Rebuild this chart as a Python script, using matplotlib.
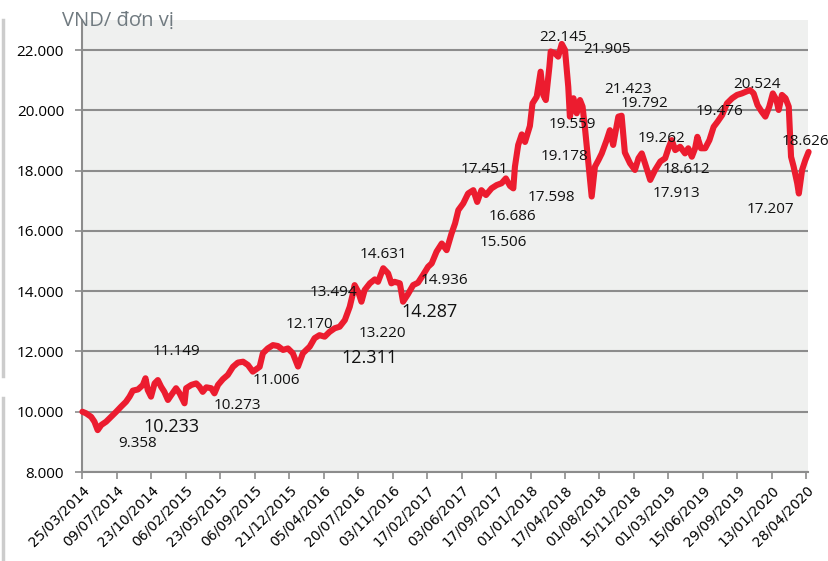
import matplotlib
matplotlib.use("Agg")
import matplotlib.pyplot as plt
import matplotlib.dates as mdates
from matplotlib.ticker import FuncFormatter
from matplotlib.lines import Line2D
import pandas as pd

# du lieu doc tu hinh (VND/don vi)
ngay = [
    "2014-03-25", "2014-04-05", "2014-04-21", "2014-05-01", "2014-05-11", "2014-05-22", "2014-06-06",
    "2014-06-21", "2014-07-07", "2014-07-22", "2014-08-06", "2014-08-17", "2014-08-27", "2014-09-12",
    "2014-09-27", "2014-10-05", "2014-10-12", "2014-10-22", "2014-11-02", "2014-11-12", "2014-11-22",
    "2014-12-02", "2014-12-13", "2014-12-23", "2015-01-07", "2015-01-18", "2015-02-02", "2015-02-07",
    "2015-02-23", "2015-03-10", "2015-03-20", "2015-03-30", "2015-04-10", "2015-04-25", "2015-05-05",
    "2015-05-16", "2015-05-31", "2015-06-15", "2015-07-01", "2015-07-16", "2015-08-01", "2015-08-16",
    "2015-08-31", "2015-09-21", "2015-10-01", "2015-10-16", "2015-11-01", "2015-11-16", "2015-12-02",
    "2015-12-17", "2016-01-01", "2016-01-17", "2016-02-01", "2016-02-22", "2016-03-08", "2016-03-23",
    "2016-04-08", "2016-04-23", "2016-05-09", "2016-05-24", "2016-06-09", "2016-06-24", "2016-07-04",
    "2016-07-09", "2016-07-20", "2016-07-30", "2016-08-09", "2016-08-25", "2016-09-09", "2016-09-19",
    "2016-10-05", "2016-10-20", "2016-10-30", "2016-11-09", "2016-11-25", "2016-12-05", "2016-12-20",
    "2017-01-05", "2017-01-20", "2017-02-04", "2017-02-20", "2017-03-03", "2017-03-18", "2017-04-03",
    "2017-04-18", "2017-05-03", "2017-05-14", "2017-05-24", "2017-06-08", "2017-06-23", "2017-07-09",
    "2017-07-21", "2017-08-03", "2017-08-17", "2017-09-03", "2017-09-19", "2017-10-04", "2017-10-17",
    "2017-10-30", "2017-11-09", "2017-11-14", "2017-11-24", "2017-12-05", "2017-12-15", "2017-12-30",
    "2018-01-07", "2018-01-20", "2018-02-01", "2018-02-09", "2018-02-17", "2018-02-28", "2018-03-04",
    "2018-03-17", "2018-03-27", "2018-04-07", "2018-04-17", "2018-04-27", "2018-05-02", "2018-05-13",
    "2018-05-23", "2018-06-02", "2018-06-10", "2018-06-18", "2018-06-28", "2018-07-08", "2018-07-18",
    "2018-07-29", "2018-08-08", "2018-08-23", "2018-09-02", "2018-09-12", "2018-09-28", "2018-10-08",
    "2018-10-18", "2018-11-03", "2018-11-18", "2018-11-29", "2018-12-09", "2018-12-19", "2019-01-04",
    "2019-01-19", "2019-02-04", "2019-02-19", "2019-03-01", "2019-03-11", "2019-03-22", "2019-04-06",
    "2019-04-21", "2019-05-01", "2019-05-12", "2019-05-22", "2019-05-29", "2019-06-09", "2019-06-22",
    "2019-07-05", "2019-07-18", "2019-07-30", "2019-08-13", "2019-08-28", "2019-09-13", "2019-09-28",
    "2019-10-13", "2019-10-26", "2019-11-07", "2019-11-18", "2019-11-30", "2019-12-13", "2019-12-24",
    "2020-01-05", "2020-01-16", "2020-01-27", "2020-02-03", "2020-02-13", "2020-02-24", "2020-03-05",
    "2020-03-12", "2020-03-20", "2020-03-31", "2020-04-05", "2020-04-15", "2020-04-25", "2020-05-05",
]
gia = [
    10000, 9950, 9830, 9670, 9390, 9560, 9670,
    9830, 10000, 10170, 10330, 10500, 10700, 10740,
    10890, 11110, 10720, 10500, 10940, 11050, 10830,
    10660, 10390, 10550, 10780, 10610, 10280, 10780,
    10890, 10940, 10830, 10660, 10810, 10780, 10610,
    10890, 11080, 11220, 11490, 11630, 11660, 11550,
    11330, 11490, 11940, 12100, 12210, 12180, 12050,
    12100, 11940, 11500, 11940, 12160, 12440, 12540,
    12490, 12650, 12770, 12820, 13040, 13480, 13930,
    14200, 13980, 13650, 14040, 14260, 14390, 14310,
    14760, 14590, 14260, 14310, 14260, 13650, 13900,
    14200, 14280, 14530, 14810, 14920, 15310, 15580,
    15360, 15910, 16250, 16690, 16910, 17240, 17350,
    16960, 17350, 17190, 17410, 17520, 17580, 17740,
    17490, 17410, 18130, 18850, 19200, 18950, 19480,
    20230, 20450, 21280, 20510, 20340, 21450, 21950,
    21890, 21780, 22200, 22000, 20780, 19790, 20400,
    19900, 20340, 20120, 19340, 18240, 17140, 18130,
    18350, 18570, 19010, 19340, 18850, 19790, 19820,
    18600, 18240, 18020, 18410, 18570, 18240, 17690,
    18020, 18300, 18410, 18740, 19010, 18680, 18790,
    18570, 18740, 18460, 18740, 19120, 18740, 18740,
    19010, 19450, 19620, 19840, 20230, 20400, 20510,
    20560, 20620, 20670, 20560, 20170, 19950, 19790,
    20120, 20560, 20340, 20010, 20510, 20400, 20120,
    18460, 18130, 17580, 17240, 18020, 18350, 18620,
]

# nhan so lieu tren bieu do
nhan_chu = ["9.358", "10.233", "11.149", "10.273", "11.006", "12.170", "13.494", "13.220",
            "12.311", "14.631", "14.287", "14.936", "15.506", "16.686", "17.451", "17.598",
            "19.178", "19.559", "22.145", "21.905", "21.423", "19.792", "19.262", "17.913",
            "18.612", "19.476", "20.524", "18.626", "17.207"]
nhan_ngay = ["2014-09-10", "2014-12-23", "2015-01-09", "2015-07-15", "2015-11-12", "2016-02-22",
             "2016-05-06", "2016-10-04", "2016-08-25", "2016-10-07", "2017-02-25", "2017-04-10",
             "2017-10-08", "2017-11-05", "2017-08-11", "2018-03-07", "2018-04-14", "2018-05-09",
             "2018-04-11", "2018-08-24", "2018-10-28", "2018-12-19", "2019-02-07", "2019-03-25",
             "2019-04-25", "2019-08-04", "2019-11-28", "2020-04-25", "2020-01-08"]
nhan_y = [8930, 9490, 12010, 10220, 11020, 12880, 13940, 12580, 11780, 15200, 13310, 14340,
          15630, 16490, 18020, 17120, 18480, 19540, 22430, 22030, 20700, 20240, 19050, 17250,
          18020, 19970, 20840, 18950, 16720]
nhan_lon = ["10.233", "12.311", "14.287"]

plt.rcParams['font.family'] = ['Open Sans', 'DejaVu Sans']

fig = plt.figure(figsize=(8.29, 5.61), dpi=100)
ax = fig.add_axes([0.099, 0.1586, 0.876, 0.806])
ax.set_facecolor("#eff0ef")

x = pd.to_datetime(ngay)
ax.plot(x, gia, color="#ec1c2f", linewidth=4.4, solid_joinstyle="round", solid_capstyle="round",
        zorder=3, clip_on=False)

for t, d, v in zip(nhan_chu, nhan_ngay, nhan_y):
    fs = 13 if t in nhan_lon else 11
    ax.text(pd.Timestamp(d), v, t, fontsize=fs, ha="center", va="center", color="#111111",
            zorder=4, clip_on=False)

ax.set_ylim(8000, 23000)
ax.set_yticks(range(8000, 22001, 2000))
ax.yaxis.set_major_formatter(FuncFormatter(lambda v, p: f"{v:,.0f}".replace(",", ".")))
ax.grid(axis="y", color="#8c8c8c", linewidth=1.5)
ax.set_axisbelow(True)

moc = pd.date_range("2014-03-25", periods=22, freq="106D")
ax.set_xticks(moc)
ax.xaxis.set_major_formatter(mdates.DateFormatter("%d/%m/%Y"))
ax.set_xlim(pd.Timestamp("2014-03-24"), pd.Timestamp("2020-05-04"))
plt.setp(ax.get_xticklabels(), rotation=45, ha="right", rotation_mode="anchor",
         family=["Liberation Sans Narrow", "DejaVu Sans"], fontsize=10)
plt.setp(ax.get_yticklabels(), fontsize=11)

for s in ["top", "right"]:
    ax.spines[s].set_visible(False)
for s in ["left", "bottom"]:
    ax.spines[s].set_color("#8c8c8c")
    ax.spines[s].set_linewidth(1.5)
ax.tick_params(axis="both", color="#8c8c8c", width=1.2, length=5)
ax.tick_params(axis="y", pad=8)
ax.tick_params(axis="x", pad=3)

fig.text(0.075, 0.962, "VND/ đơn vị", fontsize=14.5, color="#707a80", ha="left", va="center")

# vach xam mo ben trai
fig.add_artist(Line2D([0.004, 0.004], [0.33, 0.965], color="#cccccc", linewidth=2.5))
fig.add_artist(Line2D([0.004, 0.004], [0.0, 0.29], color="#cccccc", linewidth=2.5))

plt.savefig("out.png", dpi=100)
